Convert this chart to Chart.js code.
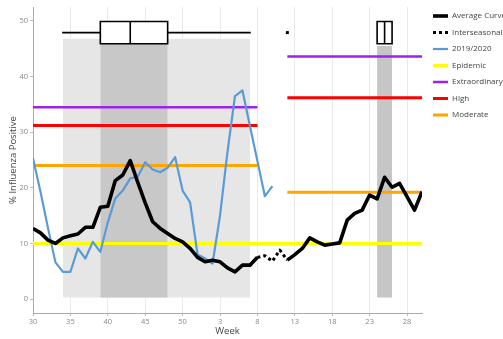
<!DOCTYPE html>
<html>
<head>
<meta charset="utf-8">
<script src="https://cdn.jsdelivr.net/npm/chart.js@4"></script>
<style>
html,body{margin:0;padding:0;background:#fff;overflow:hidden}
canvas{display:block}
</style>
</head>
<body>
<canvas id="c" width="503" height="339"></canvas>
<script>
// ---- data ----
const weeks = [30,31,32,33,34,35,36,37,38,39,40,41,42,43,44,45,46,47,48,49,50,51,52,
               1,2,3,4,5,6,7,8,9,10,11,12,13,14,15,16,17,18,19,20,21,22,23,24,25,26,27,28,29,30];

const averageCurve = [12.7,11.9,10.6,10.0,11.0,11.4,11.7,12.9,12.9,16.5,16.7,21.3,22.3,24.9,21.0,17.3,
  13.9,12.7,11.8,10.9,10.3,9.1,7.5,6.7,7.0,6.7,5.6,4.9,6.1,6.1,7.5,null,null,null,
  7.0,8.0,9.1,11.0,10.3,9.7,9.9,10.1,14.2,15.4,16.0,18.7,18.0,21.9,20.1,20.8,18.4,16.0,19.3];

const interseasonalWeeks = [8, 9, 10, 11, 12];
const interseasonal = [7.5, 7.8, 6.8, 8.8, 7.0];

const season2019 = [25.3,19.3,12.8,6.6,4.9,4.9,9.1,7.3,10.3,8.5,13.8,18.1,19.5,21.7,22.0,24.6,
  23.3,22.8,23.6,25.5,19.5,17.4,8.0,7.3,6.4,15.0,26.5,36.5,37.5,31.1,24.8,18.5,20.3];

// threshold levels: [season part, off-season part]
const epidemic = [10.0, 10.0];
const extraordinary = [34.5, 43.6];
const high = [31.2, 36.2];
const moderate = [24.0, 19.2];
const seasonSpan = [0, 30];      // index range (week 30 .. week 8)
const offSeasonSpan = [34, 52];  // index range (week 12 .. week 30)

// peak-week box plots (index positions): [min, q1, median, q3, max]
const peakBoxMain = [4, 9, 13, 18, 29];
const peakBoxLate = [46, 46, 47, 48, 48];
const lateOutlier = [34];

// ---- helpers ----
const xy = (xs, ys) => xs.map((x, i) => ({x, y: ys[i]}));
const idx = weeks.map((_, i) => i);
const BOX_LO = 45.9, BOX_HI = 49.9, WHISK = 47.9, BAND_BOTTOM = 0.3;

function thresholdData(v) {
  return [
    {x: seasonSpan[0], y: v[0]}, {x: seasonSpan[1], y: v[0]},
    {x: (seasonSpan[1] + offSeasonSpan[0]) / 2, y: null},
    {x: offSeasonSpan[0], y: v[1]}, {x: offSeasonSpan[1], y: v[1]}
  ];
}
function boxOutline(b, whiskers) {
  const [mn, q1, md, q3, mx] = b;
  const d = [
    {x: q1, y: BOX_LO}, {x: q1, y: BOX_HI}, {x: q3, y: BOX_HI}, {x: q3, y: BOX_LO}, {x: q1, y: BOX_LO},
    {x: md, y: null}, {x: md, y: BOX_LO}, {x: md, y: BOX_HI}
  ];
  if (whiskers) {
    d.push({x: mn, y: null}, {x: mn, y: WHISK}, {x: q1, y: WHISK},
           {x: mx, y: null}, {x: q3, y: WHISK}, {x: mx, y: WHISK});
  }
  return d;
}
const base = {pointRadius: 0, tension: 0, fill: false, borderJoinStyle: 'round', borderCapStyle: 'butt'};

const datasets = [
  Object.assign({}, base, {label: 'Average Curve', data: xy(idx, averageCurve), borderColor: '#000', backgroundColor: '#000', borderWidth: 3.6, order: 0}),
  Object.assign({}, base, {label: 'Interseasonal', data: xy(interseasonalWeeks.map(w => weeks.indexOf(w)), interseasonal), borderColor: '#000', backgroundColor: '#000', borderWidth: 3, borderDash: [3, 3], order: 1}),
  Object.assign({}, base, {label: '2019/2020', data: xy(idx.slice(0, season2019.length), season2019), borderColor: '#5b9bd5', backgroundColor: '#5b9bd5', borderWidth: 2.2, order: 2}),
  Object.assign({}, base, {label: 'Epidemic', data: [{x: seasonSpan[0], y: epidemic[0]}, {x: offSeasonSpan[1], y: epidemic[1]}], borderColor: '#ffff00', backgroundColor: '#ffff00', borderWidth: 3, order: 3}),
  Object.assign({}, base, {label: 'Extraordinary', data: thresholdData(extraordinary), borderColor: '#a020f0', backgroundColor: '#a020f0', borderWidth: 2.5, order: 4}),
  Object.assign({}, base, {label: 'High', data: thresholdData(high), borderColor: '#ff0000', backgroundColor: '#ff0000', borderWidth: 3, order: 5}),
  Object.assign({}, base, {label: 'Moderate', data: thresholdData(moderate), borderColor: '#ffa500', backgroundColor: '#ffa500', borderWidth: 3, order: 6}),
  // box plots
  Object.assign({}, base, {label: 'box main', data: boxOutline(peakBoxMain, true), borderColor: '#000', borderWidth: 1.6, borderJoinStyle: 'miter', borderCapStyle: 'square', order: 7}),
  Object.assign({}, base, {label: 'box late', data: boxOutline(peakBoxLate, false), borderColor: '#000', borderWidth: 1.6, borderJoinStyle: 'miter', borderCapStyle: 'square', order: 7}),
  {label: 'outlier', data: lateOutlier.map(x => ({x, y: WHISK})), showLine: false, pointRadius: 2.1, pointStyle: 'rect', pointBackgroundColor: '#000', pointBorderWidth: 0, order: 7},
  Object.assign({}, base, {label: 'box main fill', data: [{x: peakBoxMain[1], y: BOX_HI}, {x: peakBoxMain[3], y: BOX_HI}], borderWidth: 0, fill: {value: BOX_LO}, backgroundColor: '#fff', order: 8}),
  Object.assign({}, base, {label: 'box late fill', data: [{x: peakBoxLate[1], y: BOX_HI}, {x: peakBoxLate[3], y: BOX_HI}], borderWidth: 0, fill: {value: BOX_LO}, backgroundColor: '#fff', order: 8}),
  // shaded bands
  Object.assign({}, base, {label: 'band iqr', data: [{x: peakBoxMain[1], y: 46.8}, {x: peakBoxMain[3], y: 46.8}], borderWidth: 0, fill: {value: BAND_BOTTOM}, backgroundColor: '#c8c8c8', order: 9}),
  Object.assign({}, base, {label: 'band late', data: [{x: peakBoxLate[1], y: 45.5}, {x: peakBoxLate[3], y: 45.5}], borderWidth: 0, fill: {value: BAND_BOTTOM}, backgroundColor: '#c6c6c6', order: 9}),
  Object.assign({}, base, {label: 'band range', data: [{x: peakBoxMain[0], y: 46.8}, {x: peakBoxMain[4], y: 46.8}], borderWidth: 0, fill: {value: BAND_BOTTOM}, backgroundColor: '#e6e6e6', order: 10})
];
const LEGEND_COUNT = 7;

const tickFont = {family: 'Open Sans', size: 7.5};
const titleFont = {family: 'Open Sans', size: 9.5};

function draw() {
  new Chart(document.getElementById('c'), {
    type: 'line',
    data: {datasets},
    options: {
      responsive: false,
      animation: false,
      events: [],
      parsing: true,
      layout: {padding: {top: 7, right: 0, bottom: 0, left: 0}},
      scales: {
        x: {
          type: 'linear', position: 'bottom', min: 0, max: 52,
          afterFit: s => { s.height = 26; },
          ticks: {stepSize: 5, includeBounds: false, autoSkip: false, maxRotation: 0, padding: 1,
                  font: tickFont, color: '#888', callback: v => weeks[v]},
          grid: {color: '#e9e9e9', tickLength: 3, tickColor: '#bbb'},
          border: {color: '#aaa'},
          title: {display: true, text: 'Week', font: titleFont, color: '#444', padding: {top: 0, bottom: 2.3}}
        },
        y: {
          type: 'linear', position: 'left', min: -2.5, max: 52.5,
          afterFit: s => { s.width = 33; },
          ticks: {stepSize: 10, includeBounds: false, padding: 2, font: tickFont, color: '#888'},
          grid: {drawOnChartArea: false, tickLength: 3, color: '#bbb'},
          border: {color: '#aaa'},
          title: {display: true, text: '% Influenza Positive', font: titleFont, color: '#444', padding: {top: 8, bottom: 0}}
        },
        y2: {
          type: 'linear', position: 'right', min: -2.5, max: 52.5,
          afterFit: s => { s.width = 6; },
          ticks: {display: false}, grid: {display: false}, border: {display: false}
        }
      },
      plugins: {
        tooltip: {enabled: false},
        legend: {
          position: 'right', align: 'start', fullSize: false, maxWidth: 75,
          labels: {
            usePointStyle: true, pointStyleWidth: 15, boxWidth: 15, padding: 5, color: '#444',
            font: {family: 'Open Sans', size: 8, lineHeight: '11.5px'},
            generateLabels: chart => chart.data.datasets.slice(0, LEGEND_COUNT).map((d, i) => ({
              text: [d.label], fillStyle: d.borderColor, strokeStyle: d.borderColor,
              lineWidth: d.borderWidth, lineDash: d.borderDash || [], pointStyle: 'line',
              hidden: false, datasetIndex: i, fontColor: '#444'
            }))
          }
        }
      }
    }
  });
}
if (document.fonts && document.fonts.load) {
  Promise.all([document.fonts.load('8px "Open Sans"'), document.fonts.load('9.5px "Open Sans"')]).then(draw, draw);
} else { draw(); }
</script>
</body>
</html>
